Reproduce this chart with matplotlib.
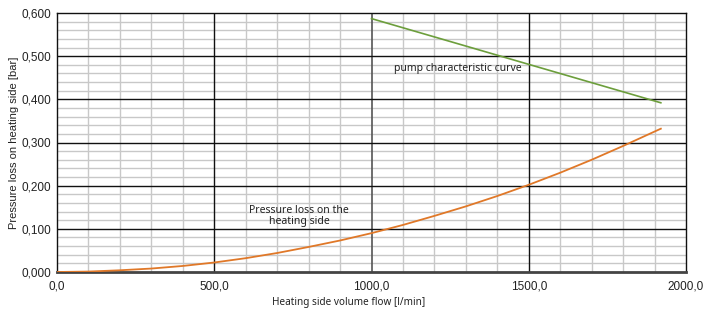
import matplotlib.pyplot as plt
from matplotlib.ticker import FixedLocator, FuncFormatter

# Pump characteristic curve (roughly straight line)
pumpFlow = [1000, 1920]
pumpPressure = [0.587, 0.392]

# Pressure loss on the heating side
lossFlow = [0, 100, 200, 300, 400, 500, 600, 700, 800, 900, 1000,
            1100, 1200, 1300, 1400, 1500, 1600, 1700, 1800, 1920]
lossPressure = [0.000, 0.001, 0.004, 0.008, 0.014, 0.022, 0.032, 0.044, 0.058, 0.073, 0.090,
                0.109, 0.130, 0.152, 0.176, 0.202, 0.230, 0.260, 0.292, 0.332]

xMajor = [0, 500, 1000, 1500, 2000]
yMajor = [0.0, 0.1, 0.2, 0.3, 0.4, 0.5, 0.6]

plt.rcParams['font.family'] = ['Liberation Sans', 'DejaVu Sans']

fig = plt.figure(figsize=(7.04, 3.10), dpi=100)
ax = fig.add_axes([57 / 704, 1 - 272 / 310, (686 - 57) / 704, (272 - 13) / 310])

ax.set_xlim(0, 2000)
ax.set_ylim(0, 0.6)

# minor grid positions without the major ones
xMinor = [v for v in range(100, 2000, 100) if v % 500 != 0]
yMinor = [i / 50 for i in range(1, 30) if i % 5 != 0]
ax.xaxis.set_major_locator(FixedLocator(xMajor))
ax.xaxis.set_minor_locator(FixedLocator(xMinor))
ax.yaxis.set_major_locator(FixedLocator(yMajor))
ax.yaxis.set_minor_locator(FixedLocator(yMinor))
ax.xaxis.set_major_formatter(FuncFormatter(lambda v, p: f"{v:.1f}".replace('.', ',')))
ax.yaxis.set_major_formatter(FuncFormatter(lambda v, p: f"{v:.3f}".replace('.', ',')))

ax.set_axisbelow(True)
ax.grid(which='minor', color='#c8c8c8', linewidth=1.0, linestyle='-')
# major lines drawn by hand so they sit on top of the minor grid
for v in xMajor[1:-1]:
    ax.axvline(v, color='#555555' if v == 1000 else '#111111',
               linewidth=1.2 if v == 1000 else 1.0, linestyle='-', zorder=2)
for v in yMajor[1:-1]:
    ax.axhline(v, color='#111111', linewidth=1.0, linestyle='-', zorder=2)

ax.tick_params(which='both', length=0, labelsize=8.5, colors='#222222', pad=4)
ax.tick_params(axis='x', pad=6)
for name, sp in ax.spines.items():
    sp.set_color('#111111')
    sp.set_linewidth(1.0)
ax.spines['bottom'].set_color('#444444')
ax.spines['bottom'].set_linewidth(2.0)

ax.plot(pumpFlow, pumpPressure, color='#6c9e3c', linewidth=1.2, zorder=3)
ax.plot(lossFlow, lossPressure, color='#e07828', linewidth=1.3, zorder=3)

ax.text(1275, 0.472, 'pump characteristic curve', fontsize=7.5, ha='center', va='center',
        family=['Noto Sans', 'DejaVu Sans'], color='#222222')
ax.text(770, 0.13, 'Pressure loss on the\nheating side', fontsize=7.5, ha='center', va='center',
        family=['Noto Sans', 'DejaVu Sans'], color='#222222', linespacing=1.0)

ax.set_xlabel('Heating side volume flow [l/min]', fontsize=7.2, color='#222222',
              family=['Noto Sans', 'DejaVu Sans'])
ax.xaxis.set_label_coords(0.464, -0.095)
ax.set_ylabel('Pressure loss on heating side [bar]', fontsize=8, color='#222222', labelpad=2)

fig.savefig('out.png', dpi=100)
